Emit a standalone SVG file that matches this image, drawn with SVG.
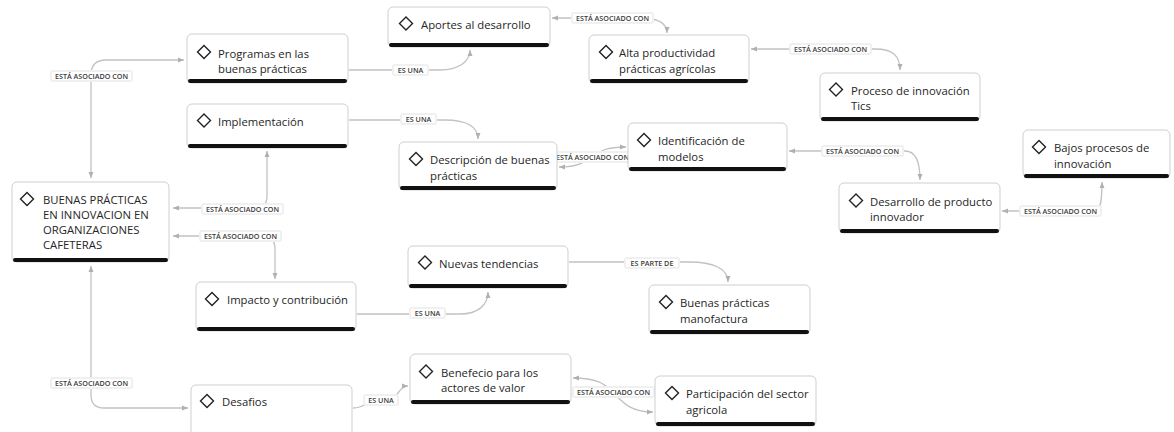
<svg xmlns="http://www.w3.org/2000/svg" width="1174" height="432" viewBox="0 0 1174 432">
<style>
.box{fill:#fff;stroke:#cfcfcf;stroke-width:1}
.bar{fill:#111}
.ico{fill:none;stroke:#222;stroke-width:1.4;stroke-linejoin:miter}
.t{font-family:"Open Sans","Noto Sans",sans-serif;font-size:11.3px;font-weight:500;fill:#262626}
.c{fill:none;stroke:#c2c2c2;stroke-width:1.3}
.lb{fill:#fff;stroke:#f0f0f0;stroke-width:2}
.lt{font-family:"Open Sans","Noto Sans",sans-serif;font-size:7.2px;font-weight:600;fill:#3a3a3a;text-anchor:middle}
</style>
<defs>
<marker id="ah" viewBox="0 0 6 6" refX="6" refY="3" markerWidth="6" markerHeight="6" orient="auto-start-reverse" markerUnits="userSpaceOnUse">
<path d="M0,0.5 L6,3 L0,5.5 z" fill="#b0b0b0"/>
</marker>
</defs>
<rect width="1174" height="432" fill="#fff"/>
<g id="connectors">
<path class="c" d="M91,178 L91,75 Q91,60 106,60 L184,60" marker-start="url(#ah)" marker-end="url(#ah)"/>
<path class="c" d="M91,266 L91,395 Q91,408 104,408 L188,408" marker-start="url(#ah)" marker-end="url(#ah)"/>
<path class="c" d="M267,151 L267,196 Q267,208 255,208 L173,208" marker-start="url(#ah)" marker-end="url(#ah)"/>
<path class="c" d="M173,236 L262,236 Q275,236 275,249 L275,279" marker-start="url(#ah)" marker-end="url(#ah)"/>
<path class="c" d="M349,70 L440,70 C458,70 470,62 470,50" marker-end="url(#ah)"/>
<path class="c" d="M349,120 L445,120 C465,120 478,126 478,139" marker-end="url(#ah)"/>
<path class="c" d="M552,18 L640,18 C660,18 667,24 667,33" marker-start="url(#ah)" marker-end="url(#ah)"/>
<path class="c" d="M751,49 L875,49 C893,49 900,56 900,70" marker-start="url(#ah)" marker-end="url(#ah)"/>
<path class="c" d="M559,167 C578,167 585,162 592,157 C600,151 606,147 626,147" marker-start="url(#ah)" marker-end="url(#ah)"/>
<path class="c" d="M789,151 L905,151 C915,151 920,160 920,180" marker-start="url(#ah)" marker-end="url(#ah)"/>
<path class="c" d="M1002,211 L1095,211 C1100,211 1102,203 1102,182" marker-start="url(#ah)" marker-end="url(#ah)"/>
<path class="c" d="M357,314 L460,314 C478,314 488,305 488,292" marker-end="url(#ah)"/>
<path class="c" d="M569,262 L690,262 C712,262 728,268 728,282" marker-end="url(#ah)"/>
<path class="c" d="M353,408 C365,408 368,400 378,400 L388,400 C398,400 398,386 408,386" marker-end="url(#ah)"/>
<path class="c" d="M573,378 C600,378 606,386 613,392 C621,400 628,412 653,412" marker-start="url(#ah)" marker-end="url(#ah)"/>
<g id="labels">
<rect class="lb" x="51" y="71" width="81" height="10" rx="2"/><text class="lt" x="91.5" y="78.6">ESTÁ ASOCIADO CON</text>
<rect class="lb" x="51" y="378" width="81" height="10" rx="2"/><text class="lt" x="91.5" y="385.6">ESTÁ ASOCIADO CON</text>
<rect class="lb" x="202" y="204" width="81" height="10" rx="2"/><text class="lt" x="242.5" y="211.6">ESTÁ ASOCIADO CON</text>
<rect class="lb" x="200" y="231" width="81" height="10" rx="2"/><text class="lt" x="240.5" y="238.6">ESTÁ ASOCIADO CON</text>
<rect class="lb" x="393" y="65" width="35" height="10" rx="2"/><text class="lt" x="410.5" y="72.6">ES UNA</text>
<rect class="lb" x="401" y="114" width="35" height="10" rx="2"/><text class="lt" x="418.5" y="121.6">ES UNA</text>
<rect class="lb" x="572" y="13" width="81" height="10" rx="2"/><text class="lt" x="612.5" y="20.6">ESTÁ ASOCIADO CON</text>
<rect class="lb" x="790" y="44" width="81" height="10" rx="2"/><text class="lt" x="830.5" y="51.6">ESTÁ ASOCIADO CON</text>
<rect class="lb" x="552" y="152" width="81" height="10" rx="2"/><text class="lt" x="592.5" y="159.6">ESTÁ ASOCIADO CON</text>
<rect class="lb" x="822" y="146" width="81" height="10" rx="2"/><text class="lt" x="862.5" y="153.6">ESTÁ ASOCIADO CON</text>
<rect class="lb" x="1020" y="206" width="81" height="10" rx="2"/><text class="lt" x="1060.5" y="213.6">ESTÁ ASOCIADO CON</text>
<rect class="lb" x="410" y="308" width="35" height="10" rx="2"/><text class="lt" x="427.5" y="315.6">ES UNA</text>
<rect class="lb" x="625" y="258" width="54" height="10" rx="2"/><text class="lt" x="652" y="265.6">ES PARTE DE</text>
<rect class="lb" x="364" y="395" width="34" height="10" rx="2"/><text class="lt" x="381" y="402.6">ES UNA</text>
<rect class="lb" x="573" y="387" width="81" height="10" rx="2"/><text class="lt" x="613.5" y="394.6">ESTÁ ASOCIADO CON</text>
</g>
</g>
<g id="n-programas"><rect class="box" x="187" y="34" width="161" height="49" rx="5"/><rect class="bar" x="188" y="79" width="159" height="4" rx="2"/><path class="ico" d="M197.5,52 l6.5,-6.5 l6.5,6.5 l-6.5,6.5 z"/><text class="t"><tspan x="218" y="57.5">Programas en las</tspan><tspan x="218" y="73">buenas prácticas</tspan></text></g>
<g id="n-implementacion"><rect class="box" x="187" y="104" width="161" height="44" rx="5"/><rect class="bar" x="188" y="144" width="159" height="4" rx="2"/><path class="ico" d="M197.5,120.5 l6.5,-6.5 l6.5,6.5 l-6.5,6.5 z"/><text class="t" x="218" y="125.5">Implementación</text></g>
<g id="n-aportes"><rect class="box" x="388" y="7" width="162" height="40" rx="5"/><rect class="bar" x="389" y="43" width="160" height="4" rx="2"/><path class="ico" d="M399.5,23.5 l6.5,-6.5 l6.5,6.5 l-6.5,6.5 z"/><text class="t" x="421" y="28.5">Aportes al desarrollo</text></g>
<g id="n-alta"><rect class="box" x="589" y="35" width="160" height="48" rx="5"/><rect class="bar" x="590" y="79" width="158" height="4" rx="2"/><path class="ico" d="M599.5,52 l6.5,-6.5 l6.5,6.5 l-6.5,6.5 z"/><text class="t"><tspan x="619" y="57">Alta productividad</tspan><tspan x="619" y="72.5">prácticas agrícolas</tspan></text></g>
<g id="n-proceso"><rect class="box" x="820" y="73" width="160" height="48" rx="5"/><rect class="bar" x="821" y="117" width="158" height="4" rx="2"/><path class="ico" d="M829.5,89.5 l6.5,-6.5 l6.5,6.5 l-6.5,6.5 z"/><text class="t"><tspan x="851" y="94.5">Proceso de innovación</tspan><tspan x="851" y="110">Tics</tspan></text></g>
<g id="n-identificacion"><rect class="box" x="628" y="123" width="159" height="48" rx="5"/><rect class="bar" x="629" y="167" width="157" height="4" rx="2"/><path class="ico" d="M637.5,140 l6.5,-6.5 l6.5,6.5 l-6.5,6.5 z"/><text class="t"><tspan x="658" y="145">Identificación de</tspan><tspan x="658" y="160.5">modelos</tspan></text></g>
<g id="n-descripcion"><rect class="box" x="399" y="142" width="158" height="48" rx="5"/><rect class="bar" x="400" y="186" width="156" height="4" rx="2"/><path class="ico" d="M409.5,159 l6.5,-6.5 l6.5,6.5 l-6.5,6.5 z"/><text class="t"><tspan x="430" y="164">Descripción de buenas</tspan><tspan x="430" y="179.5">prácticas</tspan></text></g>
<g id="n-bajos"><rect class="box" x="1023" y="130" width="147" height="48" rx="5"/><rect class="bar" x="1024" y="174" width="145" height="4" rx="2"/><path class="ico" d="M1032.5,147 l6.5,-6.5 l6.5,6.5 l-6.5,6.5 z"/><text class="t"><tspan x="1054" y="152">Bajos procesos de</tspan><tspan x="1054" y="167.5">innovación</tspan></text></g>
<g id="n-desarrollo"><rect class="box" x="839" y="183" width="161" height="50" rx="5"/><rect class="bar" x="840" y="229" width="159" height="4" rx="2"/><path class="ico" d="M849.5,200.5 l6.5,-6.5 l6.5,6.5 l-6.5,6.5 z"/><text class="t"><tspan x="870" y="205.5">Desarrollo de producto</tspan><tspan x="870" y="221">innovador</tspan></text></g>
<g id="n-buenas"><rect class="box" x="12" y="182" width="157" height="80" rx="5"/><rect class="bar" x="13" y="258" width="155" height="4" rx="2"/><path class="ico" d="M20.5,199 l6.5,-6.5 l6.5,6.5 l-6.5,6.5 z"/><text class="t"><tspan x="43" y="203.5">BUENAS PRÁCTICAS</tspan><tspan x="43" y="218.5">EN INNOVACION EN</tspan><tspan x="43" y="233.5">ORGANIZACIONES</tspan><tspan x="43" y="248.5">CAFETERAS</tspan></text></g>
<g id="n-nuevas"><rect class="box" x="408" y="246" width="160" height="42" rx="5"/><rect class="bar" x="409" y="284" width="158" height="4" rx="2"/><path class="ico" d="M418.5,262.5 l6.5,-6.5 l6.5,6.5 l-6.5,6.5 z"/><text class="t" x="439" y="267.5">Nuevas tendencias</text></g>
<g id="n-manufactura"><rect class="box" x="649" y="285" width="161" height="49" rx="5"/><rect class="bar" x="650" y="330" width="159" height="4" rx="2"/><path class="ico" d="M659.5,302 l6.5,-6.5 l6.5,6.5 l-6.5,6.5 z"/><text class="t"><tspan x="680" y="307">Buenas prácticas</tspan><tspan x="680" y="322.5">manofactura</tspan></text></g>
<g id="n-impacto"><rect class="box" x="196" y="282" width="160" height="49" rx="5"/><rect class="bar" x="197" y="327" width="158" height="4" rx="2"/><path class="ico" d="M205.5,299 l6.5,-6.5 l6.5,6.5 l-6.5,6.5 z"/><text class="t" x="227" y="304">Impacto y contribución</text></g>
<g id="n-desafios"><rect class="box" x="191" y="385" width="161" height="52" rx="5"/><path class="ico" d="M200.5,401 l6.5,-6.5 l6.5,6.5 l-6.5,6.5 z"/><text class="t" x="222" y="406">Desafios</text></g>
<g id="n-benefecio"><rect class="box" x="410" y="354" width="161" height="50" rx="5"/><rect class="bar" x="411" y="400" width="159" height="4" rx="2"/><path class="ico" d="M419.5,371.5 l6.5,-6.5 l6.5,6.5 l-6.5,6.5 z"/><text class="t"><tspan x="441" y="376.5">Benefecio para los</tspan><tspan x="441" y="392">actores de valor</tspan></text></g>
<g id="n-participacion"><rect class="box" x="655" y="376" width="161" height="50" rx="5"/><rect class="bar" x="656" y="422" width="159" height="4" rx="2"/><path class="ico" d="M665.5,393 l6.5,-6.5 l6.5,6.5 l-6.5,6.5 z"/><text class="t"><tspan x="686" y="398">Participación del sector</tspan><tspan x="686" y="413.5">agricola</tspan></text></g>
</svg>
